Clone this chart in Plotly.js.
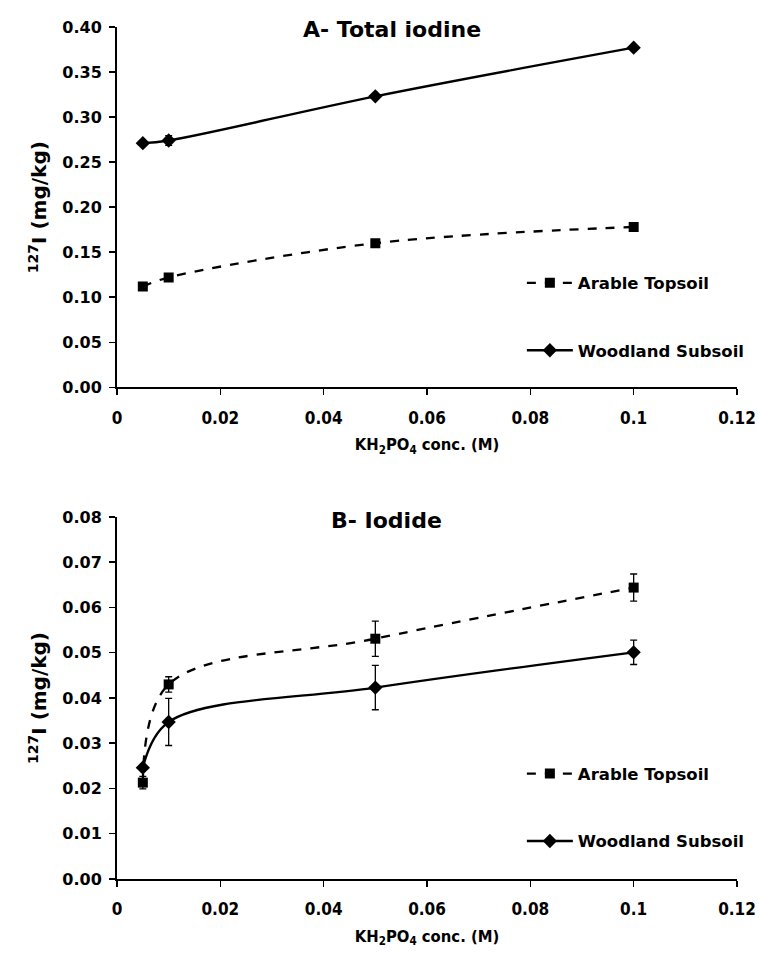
<!DOCTYPE html>
<html>
<head>
<meta charset="utf-8">
<script src="https://cdn.plot.ly/plotly-3.0.1.min.js"></script>
<style>html,body{margin:0;padding:0;background:#fff}#chart{width:759px;height:953px}</style>
</head>
<body>
<div id="chart"></div>
<script>
// Data
const conc = [0.005, 0.01, 0.05, 0.1];
// A - Total iodine
const totalArable = [0.112, 0.122, 0.160, 0.178];
const totalArableErr = [0.002, 0.002, 0.002, 0.002];
const totalWoodland = [0.271, 0.274, 0.323, 0.377];
const totalWoodlandErr = [0.002, 0.0055, 0.002, 0.002];
// B - Iodide
const iodArable = [0.0213, 0.0430, 0.0531, 0.0644];
const iodArableErr = [0.0014, 0.0017, 0.0039, 0.0030];
const iodWoodland = [0.0246, 0.0347, 0.0423, 0.0501];
const iodWoodlandErr = [0.0004, 0.0052, 0.0049, 0.0027];
const xTicks = [0, 0.02, 0.04, 0.06, 0.08, 0.1, 0.12];
const xTickText = ['0', '0.02', '0.04', '0.06', '0.08', '0.1', '0.12'];
const seriesNames = ['Arable Topsoil', 'Woodland Subsoil'];

const boldFont = 'DejaVu Sans, Verdana, sans-serif';
const condFont = 'DejaVu Sans Condensed, DejaVu Sans, sans-serif';

function tr(x, y, err, name, sym, dash, xa, ya, leg, grp) {
  return {
    x: x, y: y, name: name, type: 'scatter', mode: 'lines+markers',
    xaxis: xa, yaxis: ya, legend: leg, legendgroup: grp,
    line: {color: '#000', width: 2.3, dash: dash, shape: 'spline', smoothing: 1},
    marker: {symbol: sym, size: sym === 'square' ? 10 : 11, color: '#000'},
    error_y: {type: 'data', array: err, visible: true, color: '#000', thickness: 1.3, width: 3.5}
  };
}

const data = [
  tr(conc, totalArable, totalArableErr, seriesNames[0], 'square', 'dash', 'x', 'y', 'legend', 'a1'),
  tr(conc, totalWoodland, totalWoodlandErr, seriesNames[1], 'diamond', 'solid', 'x', 'y', 'legend', 'a2'),
  tr(conc, iodArable, iodArableErr, seriesNames[0], 'square', 'dash', 'x2', 'y2', 'legend2', 'b1'),
  tr(conc, iodWoodland, iodWoodlandErr, seriesNames[1], 'diamond', 'solid', 'x2', 'y2', 'legend2', 'b2')
];

function xax(anchor) {
  return {
    anchor: anchor, domain: [0, 1], range: [0, 0.12], tickvals: xTicks, ticktext: xTickText,
    showgrid: false, zeroline: false, showline: true, linecolor: '#000', linewidth: 2,
    ticks: 'outside', ticklen: 6, tickwidth: 1.5, tickcolor: '#000',
    tickfont: {family: condFont, size: 17, color: '#000', weight: 'bold'},
    ticklabelstandoff: 8, automargin: false,
    title: {text: 'KH<sub>2</sub>PO<sub>4</sub> conc. (M)', font: {family: condFont, size: 16.5, color: '#000', weight: 'bold'}, standoff: 12}
  };
}
function yax(anchor, dom, range, dtick) {
  return {
    anchor: anchor, domain: dom, range: range, dtick: dtick, tickformat: '.2f',
    showgrid: false, zeroline: false, showline: true, linecolor: '#000', linewidth: 2,
    ticks: 'outside', ticklen: 6, tickwidth: 1.5, tickcolor: '#000',
    tickfont: {family: boldFont, size: 16, color: '#000', weight: 'bold'},
    ticklabelstandoff: 4, automargin: false,
    title: {text: '<sup>127</sup>I (mg/kg)', font: {family: boldFont, size: 20, color: '#000', weight: 'bold'}, standoff: 10}
  };
}

const legFont = {family: boldFont, size: 16.5, color: '#000', weight: 'bold'};
const layout = {
  width: 759, height: 953,
  margin: {l: 117, r: 22, t: 27, b: 73.5, autoexpand: false},
  paper_bgcolor: '#fff', plot_bgcolor: '#fff',
  showlegend: true,
  xaxis: xax('y'),
  yaxis: yax('x', [0.5771, 1], [0, 0.4], 0.05),
  xaxis2: xax('y2'),
  yaxis2: yax('x2', [0, 0.4249], [0, 0.08], 0.01),
  legend: {x: 0.653, y: 0.720, xanchor: 'left', yanchor: 'top', tracegroupgap: 43, itemwidth: 46,
    font: legFont, bgcolor: 'rgba(0,0,0,0)', traceorder: 'grouped'},
  legend2: {x: 0.653, y: 0.144, xanchor: 'left', yanchor: 'top', tracegroupgap: 43, itemwidth: 46,
    font: legFont, bgcolor: 'rgba(0,0,0,0)', traceorder: 'grouped'},
  annotations: [
    {text: 'A- Total iodine', xref: 'paper', yref: 'paper', x: 0.443, y: 0.9965, xanchor: 'center', yanchor: 'middle', showarrow: false,
      font: {family: boldFont, size: 22, color: '#000', weight: 'bold'}},
    {text: 'B- Iodide', xref: 'paper', yref: 'paper', x: 0.434, y: 0.4205, xanchor: 'center', yanchor: 'middle', showarrow: false,
      font: {family: boldFont, size: 22, color: '#000', weight: 'bold'}}
  ]
};

Plotly.newPlot('chart', data, layout, {displayModeBar: false, staticPlot: true});
</script>
</body>
</html>
